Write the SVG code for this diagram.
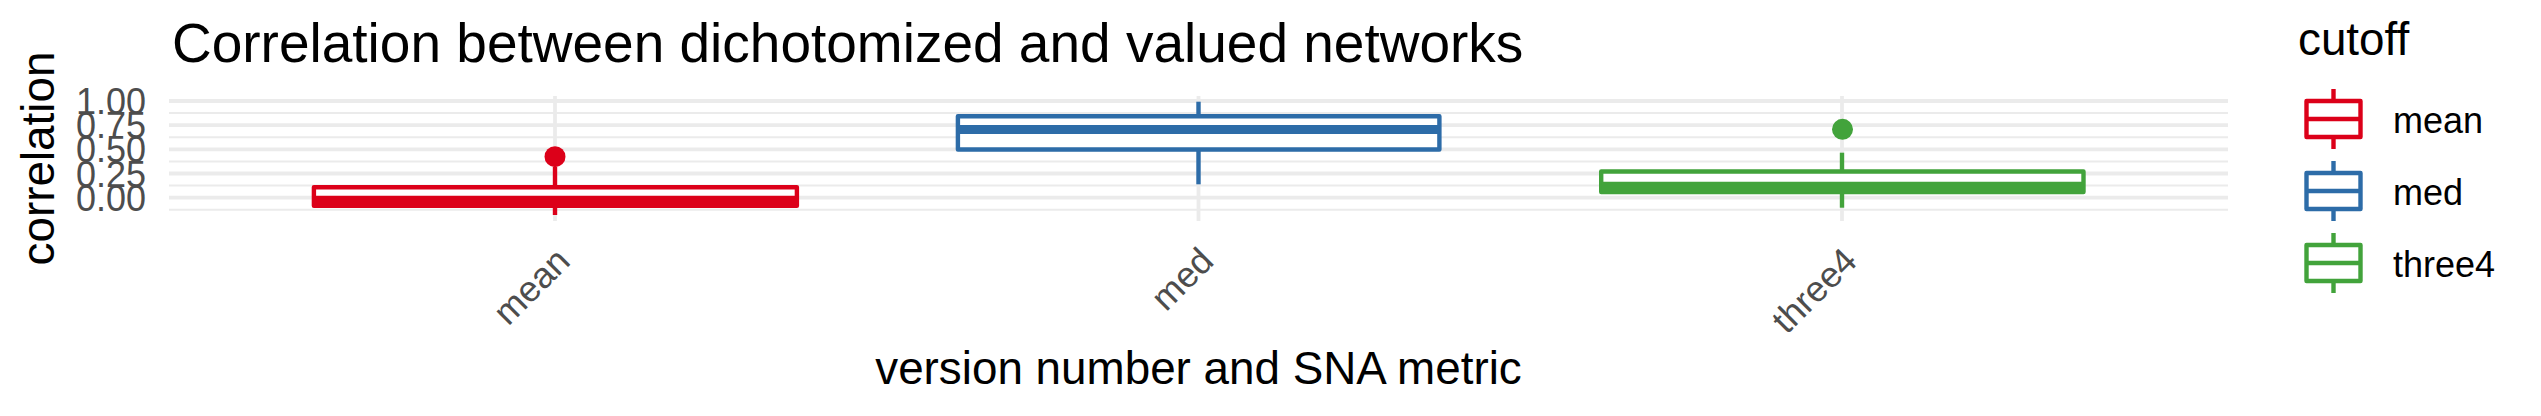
<svg xmlns="http://www.w3.org/2000/svg" width="2541" height="416" viewBox="0 0 2541 416">
<style>
text{font-family:"Liberation Sans",Arial,sans-serif}
.title{font-size:55px;fill:#000}
.axt{font-size:45.8px;fill:#000}
.tick{font-size:36px;fill:#4D4D4D}
.leg{font-size:36px;fill:#000}
.gmaj{stroke:#EBEBEB;stroke-width:3.8;fill:none}
.gmin{stroke:#EBEBEB;stroke-width:2;fill:none}
.box{fill:#FFFFFF;stroke-width:4.4;stroke-linejoin:round}
.wh{stroke-width:4.4;fill:none}
.med{stroke-width:8.8}
.r{stroke:#DC0019}
.b{stroke:#2D6CA8}
.g{stroke:#42A33B}
</style>
<rect width="2541" height="416" fill="#FFFFFF"/>
<g id="grid">
<line class="gmin" x1="169" y1="209.8" x2="2228" y2="209.8"/>
<line class="gmin" x1="169" y1="185.6" x2="2228" y2="185.6"/>
<line class="gmin" x1="169" y1="161.4" x2="2228" y2="161.4"/>
<line class="gmin" x1="169" y1="137.3" x2="2228" y2="137.3"/>
<line class="gmin" x1="169" y1="113.1" x2="2228" y2="113.1"/>
<line class="gmaj" x1="169" y1="197.7" x2="2228" y2="197.7"/>
<line class="gmaj" x1="169" y1="173.5" x2="2228" y2="173.5"/>
<line class="gmaj" x1="169" y1="149.3" x2="2228" y2="149.3"/>
<line class="gmaj" x1="169" y1="125.2" x2="2228" y2="125.2"/>
<line class="gmaj" x1="169" y1="101" x2="2228" y2="101"/>
<line class="gmaj" x1="555" y1="96" x2="555" y2="221"/>
<line class="gmaj" x1="1198.5" y1="96" x2="1198.5" y2="221"/>
<line class="gmaj" x1="1842" y1="96" x2="1842" y2="221"/>
</g>
<g id="box-mean">
<line class="wh r" x1="555" y1="167" x2="555" y2="187.2"/>
<line class="wh r" x1="555" y1="205.8" x2="555" y2="215"/>
<rect class="box r" x="313.9" y="187.2" width="483" height="18.6"/>
<line class="med r" x1="313.9" y1="200.2" x2="796.9" y2="200.2"/>
<circle cx="555" cy="156.7" r="10.5" fill="#DC0019"/>
</g>
<g id="box-med">
<line class="wh b" x1="1198.5" y1="101.7" x2="1198.5" y2="116.2"/>
<line class="wh b" x1="1198.5" y1="149.5" x2="1198.5" y2="184.3"/>
<rect class="box b" x="957.9" y="116.2" width="481.5" height="33.3"/>
<line class="med b" x1="957.9" y1="129.5" x2="1439.4" y2="129.5"/>
</g>
<g id="box-three4">
<line class="wh g" x1="1842" y1="152.7" x2="1842" y2="171.5"/>
<line class="wh g" x1="1842" y1="192.1" x2="1842" y2="207.7"/>
<rect class="box g" x="1601.2" y="171.5" width="482.3" height="20.6"/>
<line class="med g" x1="1601.2" y1="186.2" x2="2083.5" y2="186.2"/>
<circle cx="1842.5" cy="129.3" r="10.5" fill="#42A33B"/>
</g>
<g id="y-axis">
<text class="tick" x="146" y="114" text-anchor="end">1.00</text>
<text class="tick" x="146" y="138.2" text-anchor="end">0.75</text>
<text class="tick" x="146" y="162.3" text-anchor="end">0.50</text>
<text class="tick" x="146" y="186.5" text-anchor="end">0.25</text>
<text class="tick" x="146" y="210.7" text-anchor="end">0.00</text>
<text class="axt" text-anchor="middle" transform="translate(54,158.5) rotate(-90)">correlation</text>
</g>
<g id="x-axis">
<text class="tick" text-anchor="end" transform="translate(572,263) rotate(-45)">mean</text>
<text class="tick" text-anchor="end" transform="translate(1215.5,263) rotate(-45)">med</text>
<text class="tick" text-anchor="end" transform="translate(1859,263) rotate(-45)">three4</text>
<text class="axt" x="1198.5" y="384" text-anchor="middle">version number and SNA metric</text>
</g>
<g id="title">
<text class="title" x="172" y="62">Correlation between dichotomized and valued networks</text>
</g>
<g id="legend">
<text class="axt" x="2298" y="55">cutoff</text>
<g id="legend-mean">
<line class="wh r" x1="2333.5" y1="89" x2="2333.5" y2="149"/>
<rect class="box r" x="2306.5" y="101" width="54" height="36"/>
<line class="wh r" x1="2306.5" y1="119" x2="2360.5" y2="119"/>
<text class="leg" x="2393" y="133">mean</text>
</g>
<g id="legend-med">
<line class="wh b" x1="2333.5" y1="161" x2="2333.5" y2="221"/>
<rect class="box b" x="2306.5" y="173" width="54" height="36"/>
<line class="wh b" x1="2306.5" y1="191" x2="2360.5" y2="191"/>
<text class="leg" x="2393" y="205">med</text>
</g>
<g id="legend-three4">
<line class="wh g" x1="2333.5" y1="233" x2="2333.5" y2="293"/>
<rect class="box g" x="2306.5" y="245" width="54" height="36"/>
<line class="wh g" x1="2306.5" y1="263" x2="2360.5" y2="263"/>
<text class="leg" x="2393" y="277">three4</text>
</g>
</g>
</svg>
